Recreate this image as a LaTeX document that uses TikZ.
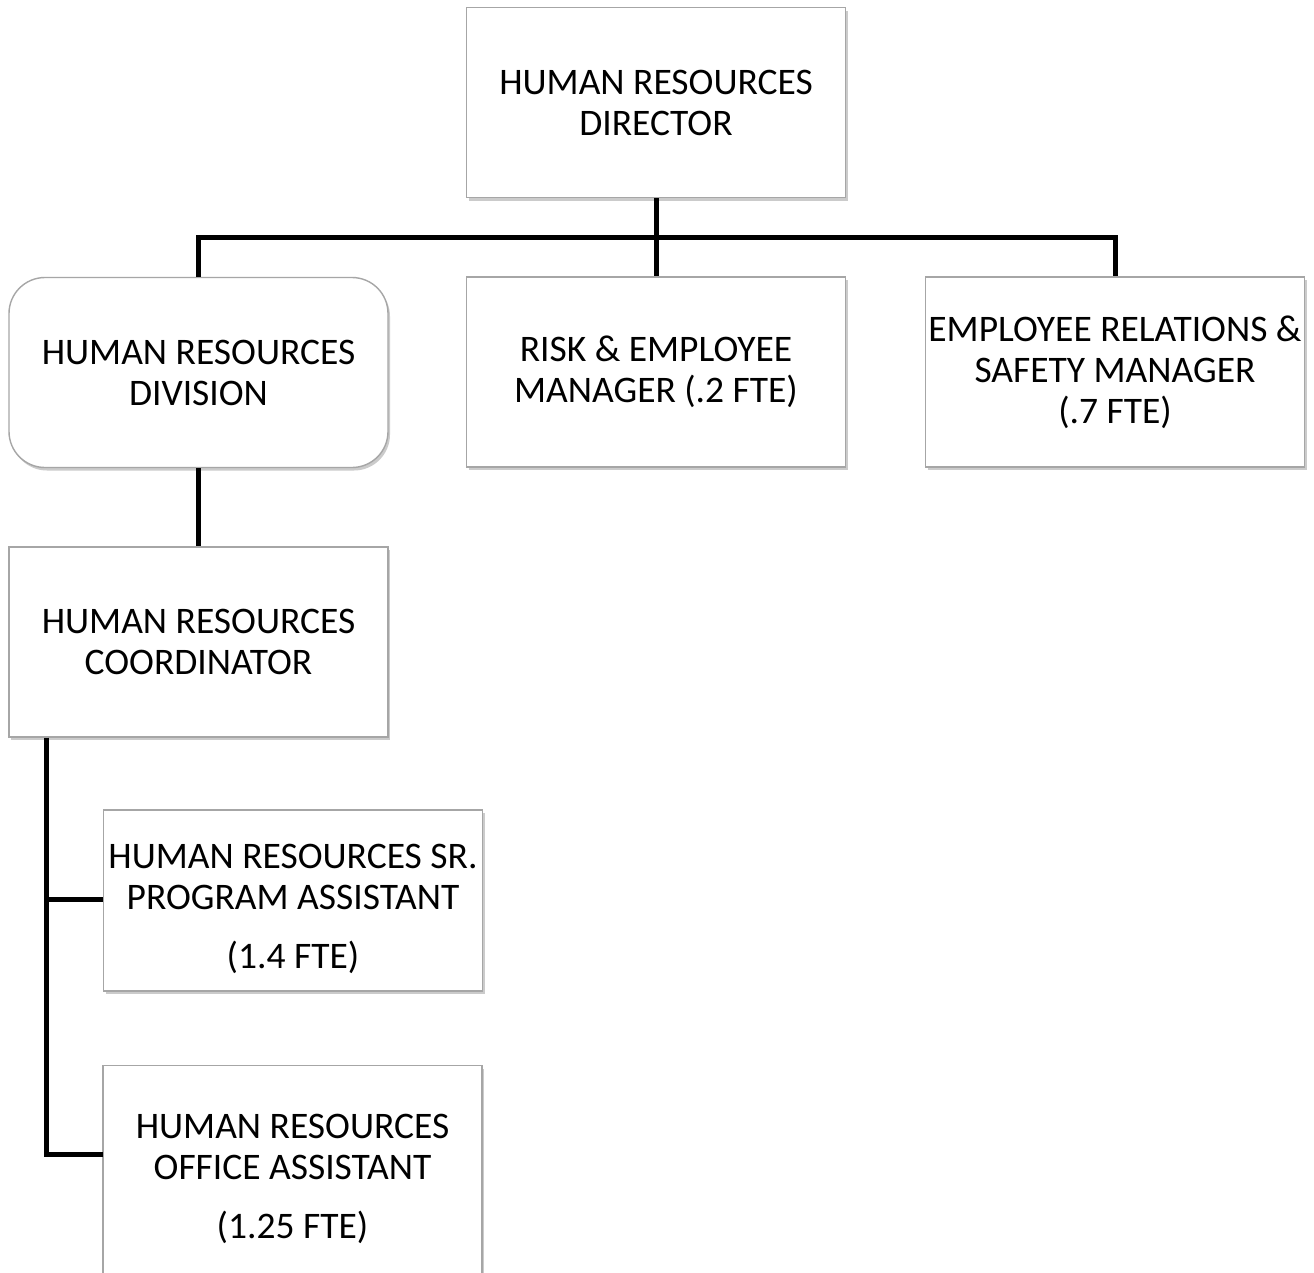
\documentclass[tikz,border=0pt]{standalone}
\usepackage{fontspec}
\setmainfont{Carlito}
\usetikzlibrary{shadows}
\definecolor{boxline}{HTML}{A6A6A6}
\tikzset{
  unitbox/.style={draw=boxline, line width=1.4pt, fill=white,
    minimum width=379pt, minimum height=190pt, inner sep=0pt,
    align=center, font=\fontsize{37.5}{41}\selectfont,
    drop shadow={shadow xshift=2pt, shadow yshift=-3pt, opacity=0.45, fill=black!45}},
  roundbox/.style={unitbox, rounded corners=36pt},
  link/.style={line width=5pt, black, line join=miter},
  caption/.style={align=center, font=\fontsize{37.5}{41}\selectfont, inner sep=0pt}
}
\begin{document}
\begin{tikzpicture}[x=1pt, y=-1pt]
  \useasboundingbox (0,0) rectangle (1314,1272);
  \clip (0,0) rectangle (1314,1272);
  \fill[white] (0,0) rectangle (1314,1272);

  % junction points of the reporting lines
  \coordinate (bar) at (656,237);
  \coordinate (trunk) at (46,737);
  \coordinate (srjoin) at (103,899);
  \coordinate (offjoin) at (103,1154);

  % boxes
  \node[unitbox] (dir) at (656,102.5) {HUMAN RESOURCES\\DIRECTOR};
  \node[roundbox] (div) at (198.5,372.5) {HUMAN RESOURCES\\DIVISION};
  \node[unitbox] (risk) at (656,372) {RISK \& EMPLOYEE\\MANAGER (.2 FTE)};
  \node[unitbox] (erm) at (1115,372) {EMPLOYEE RELATIONS \&\\SAFETY MANAGER\\(.7 FTE)};
  \node[unitbox] (coord) at (198.5,642) {HUMAN RESOURCES\\COORDINATOR};
  \node[unitbox, minimum height=181pt] (sr) at (293,900.5) {};
  \node[caption] (srtext) at (293,909) {HUMAN RESOURCES SR.\\PROGRAM ASSISTANT\\[18pt](1.4 FTE)};
  \node[unitbox, minimum height=260pt, anchor=north] (office) at (292.5,1065) {};
  \node[caption] (officetext) at (292.5,1179) {HUMAN RESOURCES\\OFFICE ASSISTANT\\[18pt](1.25 FTE)};

  % reporting lines
  \draw[link] (dir.south) -- (bar);
  \draw[link] (div.north) -- (div.north |- bar) -- (erm.north |- bar) -- (erm.north);
  \draw[link] (bar) -- (risk.north);
  \draw[link] (div.south) -- (coord.north);
  \draw[link] (coord.south -| trunk) -- (trunk |- offjoin) -- (offjoin);
  \draw[link] (trunk |- srjoin) -- (srjoin);
\end{tikzpicture}
\end{document}
